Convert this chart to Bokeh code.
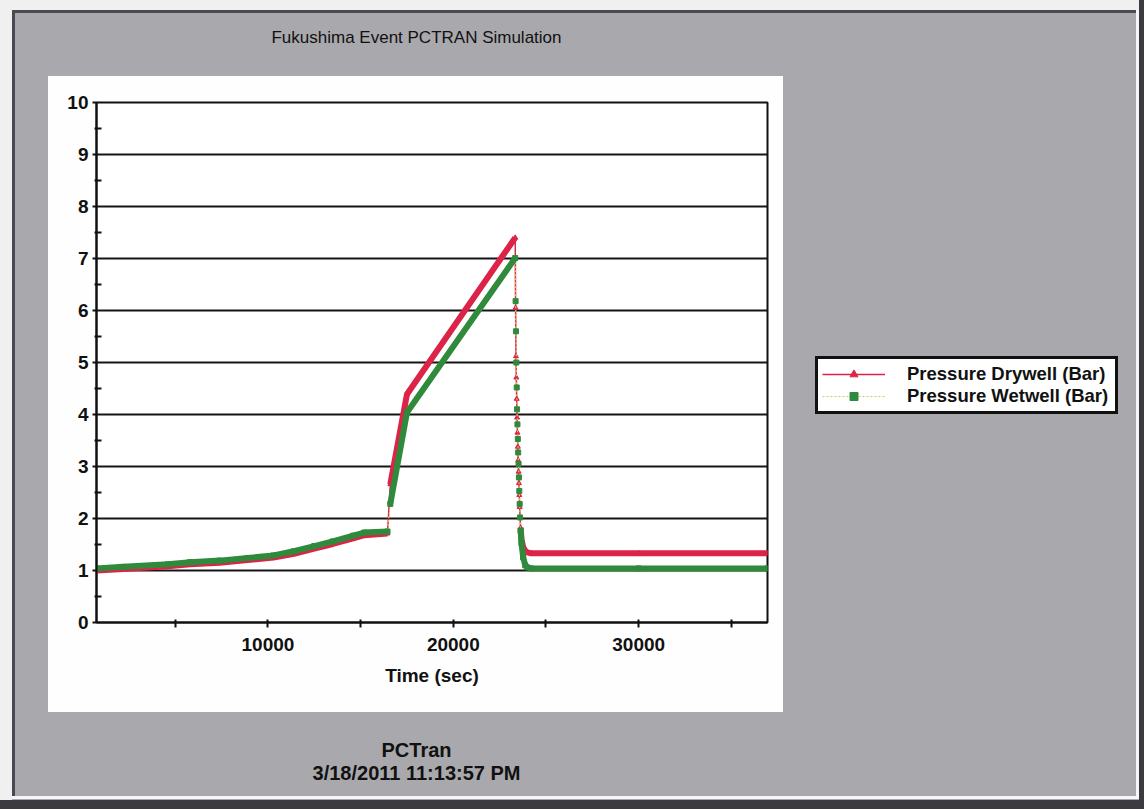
from bokeh.plotting import figure
from bokeh.layouts import row
from bokeh.models import (Range1d, FixedTicker, Legend, LegendItem,
                          ColumnDataSource, LinearAxis)
from bokeh.embed import file_html
from bokeh.resources import INLINE

# ---------------- data ----------------
time_s = [750, 2200, 4600, 5800, 7400, 8900, 10300, 11400, 12500, 13500,
          14600, 15200, 16450, 16600, 17500, 23340, 23360, 23380, 23400, 23420,
          23440, 23460, 23480, 23500, 23520, 23540, 23560, 23580, 23600, 23630,
          23680, 23770, 23880, 23990, 24200, 30000, 36950]
drywell_bar = [1.00, 1.03, 1.08, 1.12, 1.15, 1.20, 1.25, 1.32, 1.42, 1.51,
               1.62, 1.68, 1.71, 2.66, 4.39, 7.40, 6.05, 5.12, 4.71, 4.30,
               3.94, 3.65, 3.38, 3.12, 2.90, 2.68, 2.45, 2.22, 2.02, 1.82,
               1.60, 1.45, 1.38, 1.35, 1.33, 1.33, 1.33]
wetwell_bar = [1.04, 1.07, 1.12, 1.16, 1.19, 1.24, 1.29, 1.37, 1.47, 1.56,
               1.67, 1.73, 1.75, 2.28, 4.04, 7.01, 6.18, 5.60, 5.00, 4.52,
               4.10, 3.81, 3.53, 3.27, 3.05, 2.79, 2.53, 2.28, 2.02, 1.77,
               1.52, 1.25, 1.10, 1.06, 1.04, 1.04, 1.04]
series_names = ["Pressure Drywell (Bar)", "Pressure Wetwell (Bar)"]
x_major_ticks = [10000, 20000, 30000]
x_minor_ticks = [5000, 15000, 25000, 35000]
y_major_ticks = [0, 1, 2, 3, 4, 5, 6, 7, 8, 9, 10]
y_minor_ticks = [0.5, 1.5, 2.5, 3.5, 4.5, 5.5, 6.5, 7.5, 8.5, 9.5]
title_text = "Fukushima Event PCTRAN Simulation"
footer_text = "PCTran\n3/18/2011 11:13:57 PM"
x_label = "Time (sec)"
x_start, x_end = 750, 36950

# index ranges where samples are dense enough to look like a solid band
dense_runs = [(0, 12), (13, 15), (29, 36)]

# ---------------- layout ----------------
W, H = 1144, 809
CW = 783                      # width of the chart figure (left part)
FL, FR, FT, FB = 96, 767, 102, 622
GRAY = "#a9a9ad"
RED = "#dc2448"
GREEN = "#2f8a3c"
YEL = "#d2c860"
FONT = "Liberation Sans"
INK = "#111111"

# window background: grey panel, white chart card, 3D bevel (CSS layers)
layers = [
    ("#f6f6f6", 1136, 10, 3, 789),
    ("#f6f6f6", 12, 796, 1127, 3),
    ("#4a4a52", 12, 10, 3, 789),
    ("#4a4a52", 12, 10, 1127, 3),
    ("#3a3a40", 1139, 0, 5, 809),
    ("#3a3a40", 0, 800, 1144, 9),
    ("#f0f0f0", 0, 0, 12, 809),
    ("#f0f0f0", 0, 0, 1144, 10),
    ("#fefefe", 48, 76, 735, 636),
]


def css_bg(x0):
    return ", ".join(f"linear-gradient({c},{c}) {x - x0}px {y}px / {w}px {h}px no-repeat"
                     for c, x, y, w, h in layers) + f", {GRAY}"


p = figure(width=CW, height=H, output_backend="svg", toolbar_location=None,
           x_range=Range1d(x_start, x_end), y_range=Range1d(0, 10),
           min_border_left=FL, min_border_right=CW - FR,
           min_border_top=FT, min_border_bottom=H - FB,
           styles={"background": css_bg(0)})
p.border_fill_alpha = 0.0
p.background_fill_color = "white"
p.outline_line_color = INK
p.outline_line_width = 2


def px_to_x(px):
    return round(x_start + (px - FL) / (FR - FL) * (x_end - x_start))


# ---------------- axes ----------------
p.xaxis.ticker = FixedTicker(ticks=x_major_ticks, minor_ticks=x_minor_ticks)
p.yaxis.ticker = FixedTicker(ticks=y_major_ticks, minor_ticks=y_minor_ticks)
for ax in (p.xaxis, p.yaxis):
    ax.axis_line_color = INK
    ax.axis_line_width = 2
    ax.major_tick_line_color = INK
    ax.major_tick_line_width = 2
    ax.minor_tick_line_color = INK
    ax.minor_tick_line_width = 2
    ax.major_label_text_font = FONT
    ax.major_label_text_font_style = "bold"
    ax.major_label_text_color = INK
    ax.major_label_text_font_size = "19px"
p.xaxis.major_tick_in = 3
p.xaxis.major_tick_out = 5
p.xaxis.minor_tick_in = 3
p.xaxis.minor_tick_out = 5
p.xaxis.major_label_standoff = 10
p.yaxis.major_tick_in = 0
p.yaxis.major_tick_out = 4
p.yaxis.minor_tick_in = 5
p.yaxis.minor_tick_out = 2
p.yaxis.major_label_standoff = 4
p.xaxis.axis_label = x_label
p.xaxis.axis_label_text_font = FONT
p.xaxis.axis_label_text_font_style = "bold"
p.xaxis.axis_label_text_font_size = "19px"
p.xaxis.axis_label_text_color = INK
p.xaxis.axis_label_standoff = 11

p.xgrid.grid_line_color = None
p.ygrid.grid_line_color = "#151515"
p.ygrid.grid_line_width = 2
p.ygrid.grid_line_alpha = 1.0


def text_axis(text, px, standoff, size, style):
    pos = px_to_x(px)
    ax = LinearAxis(ticker=FixedTicker(ticks=[pos], minor_ticks=[]),
                    major_label_overrides={pos: text})
    ax.axis_line_color = None
    ax.major_tick_line_color = None
    ax.minor_tick_line_color = None
    ax.major_tick_out = 0
    ax.major_tick_in = 0
    ax.minor_tick_out = 0
    ax.minor_tick_in = 0
    ax.major_label_standoff = standoff
    ax.major_label_text_font = FONT
    ax.major_label_text_font_size = size
    ax.major_label_text_font_style = style
    ax.major_label_text_color = INK
    ax.major_label_text_line_height = 1.05
    return ax


p.add_layout(text_axis(title_text, 416, 56, "17px", "normal"), "above")
p.add_layout(text_axis(footer_text, 416, 50, "20px", "bold"), "below")

# ---------------- data marks ----------------
src = ColumnDataSource(dict(t=time_s, dry=drywell_bar, wet=wetwell_bar))
band_xs = [time_s[a:b + 1] for a, b in dense_runs]

DRY_LINE = dict(line_color=RED, line_width=1.5)
DRY_PTS = dict(marker="triangle", size=5, fill_color=RED, line_color=RED)
WET_LINE = dict(line_color=YEL, line_width=1.2, line_dash="2 2")
WET_PTS = dict(marker="square", size=5, fill_color=GREEN, line_color=GREEN)

p.line("t", "dry", source=src, **DRY_LINE)
p.multi_line(xs=band_xs, ys=[drywell_bar[a:b + 1] for a, b in dense_runs],
             line_color=RED, line_width=6, line_join="round")
p.scatter("t", "dry", source=src, **DRY_PTS)

p.line("t", "wet", source=src, **WET_LINE)
p.multi_line(xs=band_xs, ys=[wetwell_bar[a:b + 1] for a, b in dense_runs],
             line_color=GREEN, line_width=6, line_join="round")
p.scatter("t", "wet", source=src, **WET_PTS)

# ---------------- legend (right part of the window) ----------------
# (the row aligns this figure's frame with the chart frame: rows FT..FB)
LW = W - CW
lf = figure(width=LW, height=H, output_backend="svg", toolbar_location=None,
            x_axis_type=None, y_axis_type=None, min_border=0,
            x_range=Range1d(-2e6, -1e6), y_range=Range1d(-2e6, -1e6),
            styles={"background": css_bg(CW)})
lf.border_fill_alpha = 0.0
lf.background_fill_alpha = 0.0
lf.outline_line_color = None
lf.grid.grid_line_color = None

l_dry_line = lf.line("t", "dry", source=src, **DRY_LINE)
l_dry_pts = lf.scatter("t", "dry", source=src, **DRY_PTS)
l_wet_line = lf.line("t", "wet", source=src, **WET_LINE)
l_wet_pts = lf.scatter("t", "wet", source=src, **WET_PTS)

legend = Legend(items=[LegendItem(label=series_names[0], renderers=[l_dry_line, l_dry_pts]),
                       LegendItem(label=series_names[1], renderers=[l_wet_line, l_wet_pts])],
                location=(815 - CW, FB - 414))
legend.label_text_font = FONT
legend.label_text_font_style = "bold"
legend.label_text_font_size = "18.5px"
legend.label_text_color = INK
legend.glyph_width = 63
legend.glyph_height = 20
legend.label_height = 20
legend.label_width = 204
legend.label_standoff = 22
legend.spacing = 0
legend.padding = 4
legend.margin = 0
legend.border_line_color = INK
legend.border_line_width = 3
legend.border_line_alpha = 1.0
legend.background_fill_color = "white"
legend.background_fill_alpha = 1.0
lf.add_layout(legend)

layout = row(p, lf, spacing=0)
open("out.html", "w").write(file_html(layout, INLINE))
